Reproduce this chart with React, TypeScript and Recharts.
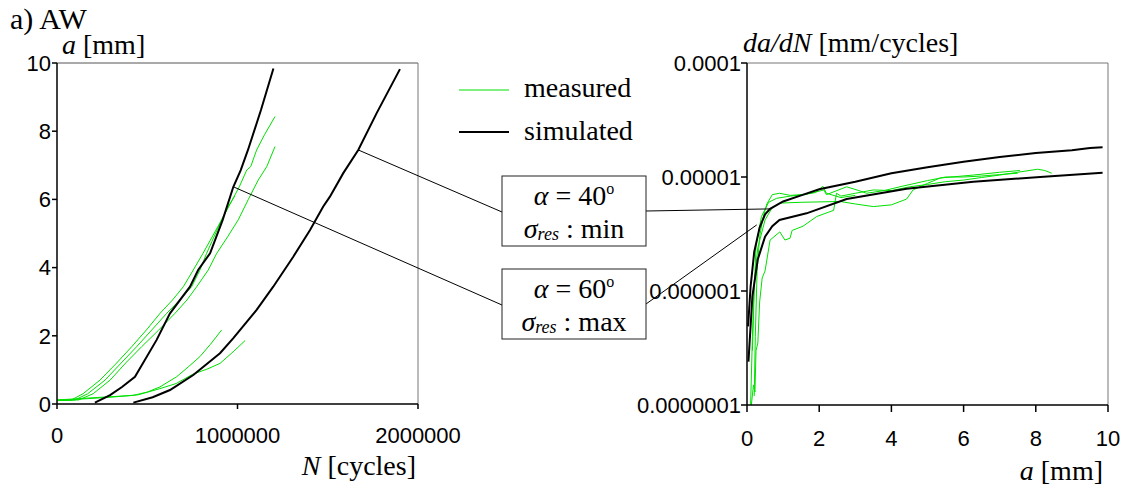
import { LineChart, Line, XAxis, YAxis, ReferenceLine } from "recharts";

// crack length a [mm] vs. cycles N, [N, a]
const simulatedMinLeft: [number, number][] = [
  [423000, 0.04], [530000, 0.2], [626000, 0.41], [755000, 0.85], [903000, 1.49],
  [977000, 1.93], [1106000, 2.76], [1198000, 3.44], [1309000, 4.32], [1402000, 5.1],
  [1475000, 5.79], [1512000, 6.08], [1586000, 6.77], [1669000, 7.45], [1771000, 8.53],
  [1900000, 9.82],
];
const simulatedMaxLeft: [number, number][] = [
  [210000, 0.04], [294000, 0.26], [360000, 0.5], [432000, 0.8], [552000, 1.88], [626000, 2.66],
  [737000, 3.44], [782000, 3.93], [848000, 4.42], [918000, 5.4], [977000, 6.37],
  [1018000, 6.86], [1058000, 7.45], [1130000, 8.62], [1199000, 9.84],
];
const measuredA: [number, number][] = [
  [0, 0.12], [80000, 0.12], [144000, 0.3], [238000, 0.7], [330000, 1.2], [414000, 1.68],
  [500000, 2.2], [571000, 2.66], [640000, 3.05], [700000, 3.44], [755000, 3.93],
  [809000, 4.42], [912000, 5.4], [1010000, 6.37], [1051000, 6.86], [1073000, 6.96],
  [1106000, 7.45], [1150000, 7.9], [1208000, 8.43],
];
const measuredB: [number, number][] = [
  [0, 0.1], [120000, 0.12], [200000, 0.3], [294000, 0.7], [380000, 1.2], [469000, 1.68],
  [560000, 2.15], [654000, 2.66], [720000, 3.05], [774000, 3.44], [838000, 3.93],
  [885000, 4.42], [945000, 4.9], [1004000, 5.4], [1060000, 6.0], [1115000, 6.57],
  [1162000, 6.96], [1208000, 7.55],
];
const measuredC: [number, number][] = [
  [0, 0.1], [100000, 0.12], [170000, 0.3], [266000, 0.7], [355000, 1.2], [441000, 1.68],
  [530000, 2.2], [608000, 2.66], [680000, 3.05], [746000, 3.44], [792000, 3.93],
  [829000, 4.42], [912000, 5.4], [950000, 5.8], [985000, 6.1],
];
const measuredD: [number, number][] = [
  [0, 0.12], [100000, 0.15], [250000, 0.2], [420000, 0.25], [500000, 0.35], [570000, 0.5],
  [663000, 0.8], [730000, 1.1], [792000, 1.39], [850000, 1.75], [912000, 2.17],
];
const measuredE: [number, number][] = [
  [0, 0.1], [150000, 0.15], [300000, 0.2], [450000, 0.27], [570000, 0.45], [660000, 0.6],
  [755000, 0.88], [830000, 1.02], [903000, 1.19], [980000, 1.55], [1042000, 1.86],
];

// growth rate da/dN [mm/cycles] vs. a [mm], [a, da/dN]
const simulatedMinRight: [number, number][] = [
  [0.03, 4.9e-7], [0.1, 1.1e-6], [0.2, 2.2e-6], [0.35, 3.6e-6], [0.5, 4.7e-6], [0.64, 5.25e-6],
  [1.0, 6.1e-6], [1.5, 6.9e-6], [2, 7.8e-6], [3, 9.1e-6], [4, 1.08e-5], [5, 1.22e-5],
  [6, 1.36e-5], [7, 1.5e-5], [8, 1.62e-5], [9, 1.72e-5], [9.5, 1.8e-5], [9.85, 1.82e-5],
];
const simulatedMaxRight: [number, number][] = [
  [0.04, 2.4e-7], [0.15, 9e-7], [0.3, 1.9e-6], [0.5, 3.0e-6], [0.7, 3.7e-6], [0.9, 4.2e-6],
  [1.65, 4.8e-6], [2.76, 6.4e-6], [4.42, 7.9e-6], [6.27, 9.1e-6], [8.12, 1.0e-5], [9.85, 1.09e-5],
];
const measuredR1: [number, number][] = [
  [0.12, 1.0e-7], [0.18, 1.5e-7], [0.22, 1.3e-7], [0.25, 3.0e-7], [0.3, 3.5e-7], [0.35, 8e-7],
  [0.42, 1.3e-6], [0.5, 1.5e-6], [0.64, 2.8e-6], [0.91, 3.3e-6], [1.05, 2.8e-6], [1.19, 2.9e-6],
  [1.25, 3.4e-6], [1.55, 3.7e-6], [1.93, 4.5e-6], [2.4, 5.1e-6], [2.48, 7.2e-6], [2.6, 6.8e-6],
  [3.0, 7.2e-6], [3.5, 7.7e-6], [4, 7.6e-6], [4.5, 8.2e-6], [5, 8.6e-6], [5.5, 9.1e-6],
  [6, 9.4e-6], [6.5, 9.9e-6], [7, 1.04e-5], [7.5, 1.1e-5], [8.05, 1.17e-5], [8.25, 1.14e-5],
  [8.44, 1.08e-5],
];
const measuredR2: [number, number][] = [
  [0.1, 1.0e-7], [0.15, 4e-7], [0.2, 1.2e-6], [0.3, 2.4e-6], [0.5, 4.2e-6], [0.7, 5.4e-6],
  [0.91, 5.9e-6], [1.5, 6.0e-6], [2.58, 6.1e-6], [3.0, 5.8e-6], [3.5, 5.5e-6], [4.0, 5.7e-6],
  [4.42, 6.4e-6], [4.6, 7.7e-6], [5.0, 8.8e-6], [5.35, 9.8e-6], [6.27, 1.04e-5], [7.0, 1.1e-5],
  [7.56, 1.14e-5],
];
const measuredR3: [number, number][] = [
  [0.15, 3e-7], [0.2, 1.0e-6], [0.25, 2.5e-6], [0.4, 4.5e-6], [0.6, 6.0e-6], [0.82, 6.5e-6],
  [1.2, 6.8e-6], [1.6, 7.0e-6], [2.13, 7.7e-6], [2.2, 7.0e-6], [2.76, 8.2e-6], [3.1, 7.6e-6],
  [3.31, 7.2e-6], [3.8, 7.6e-6], [4.3, 8.3e-6], [5.0, 9.3e-6], [5.5, 1.0e-5], [6.0, 1.0e-5],
  [6.5, 1.02e-5], [7.0, 1.05e-5], [7.5, 1.08e-5],
];
const measuredR4: [number, number][] = [
  [0.2, 1.2e-7], [0.23, 4e-7], [0.28, 1.5e-6], [0.35, 3.0e-6], [0.45, 4.5e-6], [0.55, 5.8e-6],
  [0.7, 7.0e-6], [0.9, 7.2e-6], [1.2, 6.9e-6], [1.5, 7.0e-6], [1.9, 7.3e-6], [2.1, 8.3e-6],
  [2.2, 7.2e-6], [2.6, 6.6e-6], [3.0, 6.9e-6],
];

const leftTicksX = [0, 1000000, 2000000];
const leftTicksY = [0, 2, 4, 6, 8, 10];
const rightTicksX = [0, 2, 4, 6, 8, 10];
const rightTicksY = [1e-7, 1e-6, 1e-5, 1e-4];
const rightTickLabels = ["0.0000001", "0.000001", "0.00001", "0.0001"];

// annotation anchor points on the curves (data coordinates)
const anchorMinLeft: [number, number] = [1669000, 7.45];
const anchorMaxLeft: [number, number] = [977000, 6.37];
const anchorMinRight: [number, number] = [0.64, 5.25e-6];
const anchorMaxRight: [number, number] = [0.27, 3.8e-6];

const GREEN = "#00e000";
const SANS = "'Liberation Sans', Arial, sans-serif";
const SERIF = "'Liberation Serif', 'Times New Roman', serif";

// plot area geometry (page pixels)
const L = { x0: 57, x1: 418, top: 63, bottom: 404, width: 470 };
const R = { left: 560, x0: 747, x1: 1108, top: 63, bottom: 405, width: 565 };
const H = 489;

const toXY = (pts: [number, number][]) => pts.map(([x, y]) => ({ x, y }));

const lx = (n: number) => L.x0 + (n / 2000000) * (L.x1 - L.x0);
const ly = (a: number) => L.bottom - (a / 10) * (L.bottom - L.top);
const rx = (a: number) => R.x0 + (a / 10) * (R.x1 - R.x0);
const ry = (v: number) => R.top + ((-4 - Math.log10(v)) / 3) * (R.bottom - R.top);

const tickStyle = { fontFamily: SANS, fontSize: 22, fill: "#000" };

const LeftChart = () => (
  <LineChart
    width={L.width}
    height={H}
    margin={{ top: L.top, left: L.x0 - 50, right: L.width - L.x1, bottom: H - L.bottom - 30 }}
  >
    <XAxis
      dataKey="x"
      type="number"
      domain={[0, 2000000]}
      ticks={leftTicksX}
      height={30}
      tick={tickStyle}
      tickSize={5}
      tickMargin={18}
      stroke="#000"
      strokeWidth={1.5}
      allowDuplicatedCategory={false}
    />
    <YAxis
      dataKey="y"
      type="number"
      domain={[0, 10]}
      ticks={leftTicksY}
      width={50}
      tick={tickStyle}
      tickSize={5}
      tickMargin={1}
      stroke="#000"
      strokeWidth={1.5}
    />
    <ReferenceLine y={10} stroke="#555" strokeWidth={1} />
    <ReferenceLine x={2000000} stroke="#777" strokeWidth={1} />
    {[measuredA, measuredB, measuredC, measuredD, measuredE].map((s, i) => (
      <Line key={"m" + i} data={toXY(s)} dataKey="y" stroke={GREEN} strokeWidth={1} dot={false} isAnimationActive={false} />
    ))}
    {[simulatedMinLeft, simulatedMaxLeft].map((s, i) => (
      <Line key={"s" + i} data={toXY(s)} dataKey="y" stroke="#000" strokeWidth={2} dot={false} isAnimationActive={false} />
    ))}
  </LineChart>
);

const RightChart = () => (
  <LineChart
    width={R.width}
    height={H}
    margin={{ top: R.top, left: R.x0 - R.left - 110, right: R.left + R.width - R.x1, bottom: H - R.bottom - 30 }}
  >
    <XAxis
      dataKey="x"
      type="number"
      domain={[0, 10]}
      ticks={rightTicksX}
      height={30}
      tick={tickStyle}
      tickSize={7}
      tickMargin={18}
      stroke="#000"
      strokeWidth={1.5}
      allowDuplicatedCategory={false}
    />
    <YAxis
      dataKey="y"
      type="number"
      scale="log"
      domain={[1e-7, 1e-4]}
      allowDataOverflow
      ticks={rightTicksY}
      tickFormatter={(v: number) => rightTickLabels[rightTicksY.indexOf(v)] ?? String(v)}
      width={110}
      tick={tickStyle}
      tickSize={6}
      tickMargin={0}
      stroke="#000"
      strokeWidth={1.5}
    />
    <ReferenceLine y={1e-4} stroke="#777" strokeWidth={1} />
    <ReferenceLine x={10} stroke="#777" strokeWidth={1} />
    {[measuredR1, measuredR2, measuredR3, measuredR4].map((s, i) => (
      <Line key={"m" + i} data={toXY(s)} dataKey="y" stroke={GREEN} strokeWidth={1} dot={false} isAnimationActive={false} />
    ))}
    {[simulatedMinRight, simulatedMaxRight].map((s, i) => (
      <Line key={"s" + i} data={toXY(s)} dataKey="y" stroke="#000" strokeWidth={2} dot={false} isAnimationActive={false} />
    ))}
  </LineChart>
);

const Box = ({ top, angle, level }: { top: number; angle: string; level: string }) => (
  <g>
    <rect x={502} y={top} width={144} height={70} fill="#fff" stroke="#222" strokeWidth={1} />
    <text x={574} y={top + 29} textAnchor="middle" fontFamily={SERIF} fontSize={28}>
      <tspan fontStyle="italic">α</tspan>
      <tspan> = {angle}</tspan>
      <tspan dy={-11} fontSize={16}>o</tspan>
    </text>
    <text x={574} y={top + 62} textAnchor="middle" fontFamily={SERIF} fontSize={28}>
      <tspan fontStyle="italic">σ</tspan>
      <tspan fontStyle="italic" fontSize={18} dy={2}>res</tspan>
      <tspan dy={-2}> : {level}</tspan>
    </text>
  </g>
);

const Overlay = () => (
  <svg width={1125} height={H} style={{ position: "absolute", left: 0, top: 0, pointerEvents: "none" }}>
    <g fontFamily={SERIF} fontSize={28} fill="#000">
      <text x={10} y={29} style={{ fontSize: "30px" }}>a) AW</text>
      <text x={62} y={54}><tspan fontStyle="italic">a</tspan> [mm]</text>
      <text x={416} y={475} textAnchor="end"><tspan fontStyle="italic">N</tspan> [cycles]</text>
      <text x={743} y={52}><tspan fontStyle="italic">da/dN</tspan> [mm/cycles]</text>
      <text x={1103} y={480} textAnchor="end"><tspan fontStyle="italic">a</tspan> [mm]</text>
      <text x={524} y={97}>measured</text>
      <text x={524} y={140}>simulated</text>
    </g>
    <line x1={459} x2={509} y1={90} y2={90} stroke={GREEN} strokeWidth={1} />
    <line x1={459} x2={509} y1={132} y2={132} stroke="#000" strokeWidth={2} />

    <line x1={lx(anchorMinLeft[0])} y1={ly(anchorMinLeft[1])} x2={502} y2={212} stroke="#000" strokeWidth={1} />
    <line x1={lx(anchorMaxLeft[0])} y1={ly(anchorMaxLeft[1])} x2={502} y2={305} stroke="#000" strokeWidth={1} />
    <line x1={646} y1={211} x2={rx(anchorMinRight[0])} y2={ry(anchorMinRight[1])} stroke="#000" strokeWidth={1} />
    <line x1={646} y1={304} x2={rx(anchorMaxRight[0])} y2={ry(anchorMaxRight[1])} stroke="#000" strokeWidth={1} />

    <Box top={176} angle="40" level="min" />
    <Box top={269} angle="60" level="max" />
  </svg>
);

export default function App() {
  return (
    <div style={{ position: "absolute", left: 0, top: 0, width: 1125, height: H, background: "#fff" }}>
      <div style={{ position: "absolute", left: 0, top: 0 }}>
        <LeftChart />
      </div>
      <div style={{ position: "absolute", left: R.left, top: 0 }}>
        <RightChart />
      </div>
      <Overlay />
    </div>
  );
}
